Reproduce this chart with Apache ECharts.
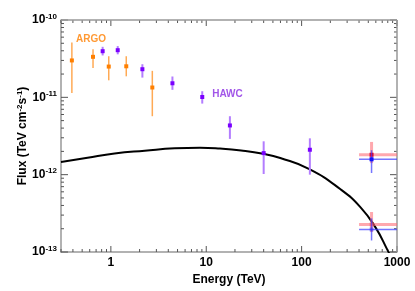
<!DOCTYPE html>
<html>
<head>
<meta charset="utf-8">
<script src="https://cdn.jsdelivr.net/npm/echarts@6/dist/echarts.min.js"></script>
<style>
html,body{margin:0;padding:0;background:#fff;}
#chart{width:415px;height:291px;}
</style>
</head>
<body>
<div id="chart"></div>
<script>
// ---- Data ----
// ARGO: [energy TeV, flux, fluxLow, fluxHigh]
const argoPoints = [
  [0.39, 3.0e-11, 1.14e-11, 5.1e-11],
  [0.65, 3.34e-11, 2.4e-11, 4.2e-11],
  [0.95, 2.5e-11, 1.66e-11, 3.4e-11],
  [1.45, 2.52e-11, 1.87e-11, 3.4e-11],
  [2.72, 1.34e-11, 5.7e-12, 2.2e-11]
];
// HAWC: [energy TeV, flux, fluxLow, fluxHigh]
const hawcPoints = [
  [0.82, 3.95e-11, 3.48e-11, 4.5e-11],
  [1.18, 4.07e-11, 3.6e-11, 4.6e-11],
  [2.14, 2.31e-11, 1.8e-11, 2.68e-11],
  [4.42, 1.52e-11, 1.25e-11, 1.86e-11],
  [9.08, 1.01e-11, 8.3e-12, 1.2e-11],
  [17.7, 4.33e-12, 2.9e-12, 5.7e-12],
  [40, 1.9e-12, 1.02e-12, 2.7e-12],
  [122, 2.1e-12, 1.0e-12, 2.95e-12]
];
// Red points: [energy, flux, fluxLow, fluxHigh, energyLow, energyHigh]
const redPoints = [
  [541, 1.81e-12, 1.41e-12, 2.65e-12, 400, 1000],
  [541, 2.26e-13, 1.81e-13, 3.29e-13, 400, 1000]
];
// Blue points: [energy, flux, fluxLow, fluxHigh, energyLow, energyHigh]
const bluePoints = [
  [541, 1.58e-12, 1.05e-12, 2.07e-12, 400, 1000],
  [541, 1.96e-13, 1.41e-13, 2.72e-13, 400, 1000]
];
// Model curve samples: [energy, flux]
const modelCurve = [
  [0.3, 1.46e-12], [0.569, 1.66e-12], [1.094, 1.877e-12], [2.263, 2.04e-12],
  [4.68, 2.19e-12], [8.59, 2.225e-12], [13.94, 2.172e-12], [23.2, 2.052e-12],
  [39.5, 1.86e-12], [59.7, 1.64e-12], [120.5, 1.181e-12], [255.5, 6.47e-13],
  [415, 3.78e-13], [597, 2.065e-13], [798, 1.05e-13], [879, 8.3e-14]
];
// Text labels placed at data positions
const argoLabel = [0.62, 5.6e-11];
const hawcLabel = [16.7, 1.11e-11];
// Tick labels
const xTickLabels = ['1', '10', '100', '1000'];
const yTickExponents = [-13, -12, -11, -10];

const FONT = 'Liberation Sans';

function errRender(color, barColor, barWidth, size, faintOpacity) {
  return function (params, api) {
    const x = api.value(0), y = api.value(1), lo = api.value(2), hi = api.value(3);
    const c = api.coord([x, y]);
    const pLo = api.coord([x, lo]);
    const pHi = api.coord([x, hi]);
    const children = [
      {type: 'line', shape: {x1: c[0], y1: pLo[1], x2: c[0], y2: pHi[1]},
       style: {stroke: barColor, lineWidth: barWidth}}
    ];
    const xl = api.value(4), xh = api.value(5);
    if (!isNaN(xl) && !isNaN(xh)) {
      const a = api.coord([xl, y]), b = api.coord([xh, y]);
      children.push({type: 'line', shape: {x1: a[0], y1: c[1], x2: b[0], y2: c[1]},
        style: {stroke: barColor, lineWidth: barWidth}});
    }
    const op = (faintOpacity != null && params.dataIndex > 0) ? faintOpacity : 1;
    children.push({type: 'rect', shape: {x: c[0] - size / 2, y: c[1] - size / 2, width: size, height: size},
      style: {fill: color, opacity: op}});
    return {type: 'group', children: children};
  };
}

function ticksRender(params, api) {
  const p0 = api.coord([0.3, 1e-13]);
  const p1 = api.coord([1000, 1e-10]);
  const left = p0[0], bottom = p0[1], right = p1[0], top = p1[1];
  const col = '#555';
  const ch = [];
  for (let d = -1; d <= 3; d++) {
    for (let m = 1; m <= 9; m++) {
      const v = m * Math.pow(10, d);
      if (v < 0.3 - 1e-9 || v > 1000 + 1e-9) continue;
      const px = api.coord([v, 1e-12])[0];
      const len = m === 1 ? 6 : 3;
      ch.push({type: 'line', shape: {x1: px, y1: bottom, x2: px, y2: bottom - len}, style: {stroke: col, lineWidth: 1}});
      ch.push({type: 'line', shape: {x1: px, y1: top, x2: px, y2: top + len}, style: {stroke: col, lineWidth: 1}});
    }
  }
  for (let d = -13; d <= -10; d++) {
    for (let m = 1; m <= 9; m++) {
      const v = m * Math.pow(10, d);
      if (v > 1e-10 * 1.0000001) continue;
      const py = api.coord([1, v])[1];
      const len = m === 1 ? 7 : 3;
      ch.push({type: 'line', shape: {x1: left, y1: py, x2: left + len, y2: py}, style: {stroke: col, lineWidth: 1}});
      ch.push({type: 'line', shape: {x1: right, y1: py, x2: right - len, y2: py}, style: {stroke: col, lineWidth: 1}});
    }
  }
  return {type: 'group', children: ch};
}

const chart = echarts.init(document.getElementById('chart'), null, {renderer: 'canvas'});
chart.setOption({
  animation: false,
  backgroundColor: '#fff',
  grid: {left: 61, right: 18, top: 20, bottom: 39, show: false},
  graphic: [{
    type: 'text', x: 23, y: 136, rotation: Math.PI / 2, silent: true,
    style: {
      text: 'Flux (TeV cm{sup|-2}s{sup|-1})',
      font: 'bold 12px "Liberation Sans"', fill: '#000',
      align: 'center', verticalAlign: 'middle',
      rich: {sup: {font: 'bold 8px "Liberation Sans"', fill: '#000', padding: [0, 0, 6, 0]}}
    }
  }],
  xAxis: {
    type: 'log', logBase: 10, min: 0.3, max: 1000,
    name: 'Energy (TeV)', nameLocation: 'middle', nameGap: 18,
    nameTextStyle: {fontFamily: FONT, fontWeight: 'bold', fontSize: 12, color: '#000'},
    axisLine: {show: true, onZero: false, lineStyle: {color: '#999', width: 1.5}},
    axisTick: {show: false},
    splitLine: {show: false},
    axisLabel: {
      showMinLabel: false, margin: 5,
      fontFamily: FONT, fontWeight: 'bold', fontSize: 12, color: '#000',
      formatter: function (v) {
        const e = Math.round(Math.log10(v));
        const s = String(Math.pow(10, e));
        return (Math.abs(v - Math.pow(10, e)) < 1e-6 * v && xTickLabels.indexOf(s) >= 0) ? s : '';
      }
    }
  },
  yAxis: {
    type: 'log', logBase: 10, min: 1e-13, max: 1e-10,
    axisLine: {show: true, onZero: false, lineStyle: {color: '#999', width: 1.5}},
    axisTick: {show: false},
    splitLine: {show: false},
    axisLabel: {
      margin: 4,
      fontFamily: FONT, fontWeight: 'bold', fontSize: 12, color: '#000',
      rich: {sup: {fontFamily: FONT, fontWeight: 'bold', fontSize: 8, color: '#000', padding: [0, 0, 7, 0]}},
      formatter: function (v) {
        const e = Math.round(Math.log10(v));
        return yTickExponents.indexOf(e) >= 0 ? '10{sup|' + e + '}' : '';
      }
    }
  },
  series: [
    {
      type: 'custom', coordinateSystem: 'cartesian2d', silent: true, z: 1,
      data: [[1, 1e-12]], renderItem: ticksRender
    },
    {
      type: 'custom', coordinateSystem: 'cartesian2d', silent: true, z: 2,
      data: [[0.3, 1e-10], [1000, 1e-13]],
      renderItem: function (params, api) {
        if (params.dataIndex !== 0) return null;
        const a = api.coord([0.3, 1e-10]), b = api.coord([1000, 1e-13]);
        return {type: 'group', children: [
          {type: 'line', shape: {x1: a[0], y1: a[1], x2: b[0], y2: a[1]}, style: {stroke: '#999', lineWidth: 1.5}},
          {type: 'line', shape: {x1: b[0], y1: a[1], x2: b[0], y2: b[1]}, style: {stroke: '#999', lineWidth: 1.5}}
        ]};
      }
    },
    {
      type: 'line', data: modelCurve, smooth: 0.5, showSymbol: false, symbol: 'none', clip: true,
      lineStyle: {color: '#000', width: 2}, z: 3
    },
    {
      type: 'custom', coordinateSystem: 'cartesian2d', z: 4, clip: true,
      data: argoPoints, renderItem: errRender('#ff7f00', '#ffaa55', 1.5, 4)
    },
    {
      type: 'custom', coordinateSystem: 'cartesian2d', z: 4, clip: true,
      data: hawcPoints, renderItem: errRender('#7a00ff', '#b37dff', 2, 4)
    },
    {
      type: 'custom', coordinateSystem: 'cartesian2d', z: 5, clip: true,
      data: redPoints, renderItem: errRender('#e0002a', 'rgba(255,110,120,0.6)', 3, 4, 0.25)
    },
    {
      type: 'custom', coordinateSystem: 'cartesian2d', z: 6, clip: true,
      data: bluePoints, renderItem: errRender('#1010ff', 'rgba(60,60,255,0.7)', 1.5, 4, 0.35)
    },
    {
      type: 'scatter', symbolSize: 0, silent: true, z: 7,
      data: [argoLabel],
      label: {show: true, position: 'inside', formatter: 'ARGO', fontFamily: FONT, fontWeight: 'bold', fontSize: 10, color: '#ff7f00'}
    },
    {
      type: 'scatter', symbolSize: 0, silent: true, z: 7,
      data: [hawcLabel],
      label: {show: true, position: 'inside', formatter: 'HAWC', fontFamily: FONT, fontWeight: 'bold', fontSize: 10, color: '#8a2be2'}
    }
  ]
});
</script>
</body>
</html>
